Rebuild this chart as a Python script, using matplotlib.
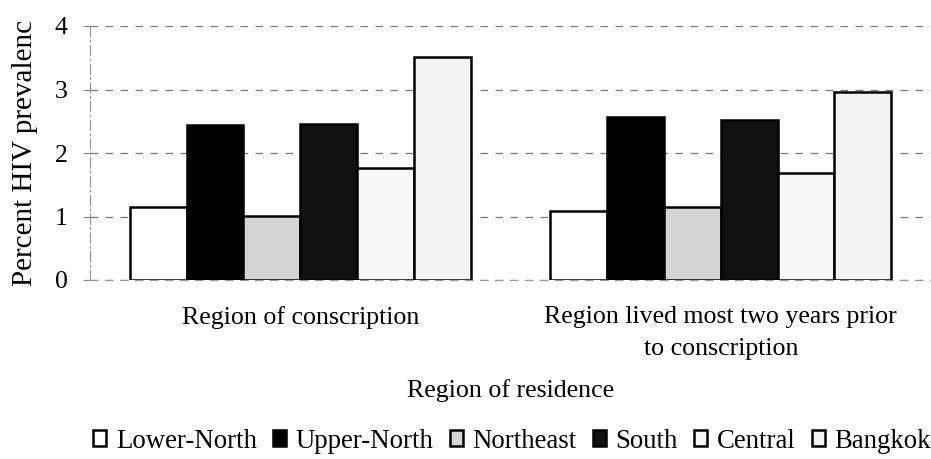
import matplotlib
matplotlib.use("Agg")
import matplotlib.pyplot as plt
import numpy as np

groups = ["Region of conscription", "Region lived most two years prior\nto conscription"]
regions = ["Lower-North", "Upper-North", "Northeast", "South", "Central", "Bangkok"]
values = {
    "Lower-North": [1.15, 1.09],
    "Upper-North": [2.44, 2.57],
    "Northeast":   [1.01, 1.15],
    "South":       [2.46, 2.52],
    "Central":     [1.76, 1.69],
    "Bangkok":     [3.51, 2.96],
}
colors = ["#ffffff", "#000000", "#d4d4d4", "#111111", "#f7f7f7", "#f3f3f3"]
yticks = [0, 1, 2, 3, 4]

plt.rcParams['font.family'] = ['Liberation Serif', 'DejaVu Serif']

fig = plt.figure(figsize=(9.31, 4.59), dpi=100)
ax = fig.add_axes([90/931, (459-280)/459, 841/931, 254/459])

n = len(regions)
w = 0.135
x = np.arange(len(groups))
for i, (r, c) in enumerate(zip(regions, colors)):
    ax.bar(x + (i - (n-1)/2) * w, values[r], width=w, color=c,
           edgecolor="black", linewidth=1.8, label=r, zorder=3)

ax.set_xlim(-0.5, 1.5)
ax.set_ylim(0, 4)
ax.set_yticks(yticks)
ax.set_yticklabels([str(v) for v in yticks], fontsize=18.6)
ax.set_xticks(x)
ax.set_xticklabels(groups, fontsize=18.6, linespacing=1.55)
ax.tick_params(axis='x', length=0, pad=19)
ax.tick_params(axis='y', length=5, color='#888888', pad=11)
ax.yaxis.grid(True, linestyle=(0, (6, 6)), color='#777777', linewidth=0.9, zorder=0)
ax.set_axisbelow(True)
for s in ['top', 'right']:
    ax.spines[s].set_visible(False)
ax.spines['left'].set_color('#999999')
ax.spines['left'].set_linestyle((0, (8, 3, 1, 3)))
ax.spines['left'].set_linewidth(0.9)
ax.spines['bottom'].set_color('#999999')
ax.spines['bottom'].set_linestyle((0, (6, 6)))
ax.spines['bottom'].set_linewidth(0.9)

ax.set_ylabel("Percent HIV prevalenc", fontsize=21, labelpad=12)
ax.set_xlabel("Region of residence", fontsize=18.6, labelpad=14)

leg = fig.legend(loc='center', bbox_to_anchor=(512/931, 0.039), ncol=6, frameon=False,
                 fontsize=19.3, handlelength=0.5, handleheight=0.5, handletextpad=0.35,
                 columnspacing=0.6, borderaxespad=0, borderpad=0)

fig.savefig("out.png", dpi=100)
